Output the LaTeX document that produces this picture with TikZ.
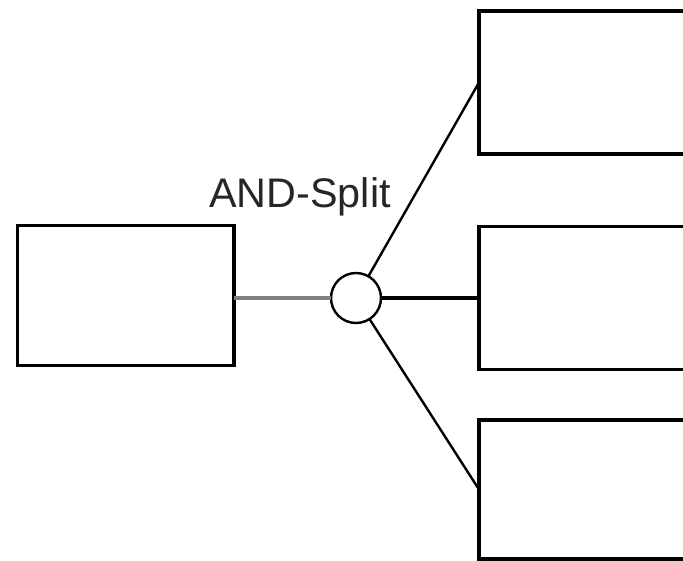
\documentclass[tikz,border=0pt]{standalone}
\usepackage{fontspec}
\setmainfont{Liberation Sans}
\begin{document}
\begin{tikzpicture}[x=0.75pt,y=-0.75pt,
  box/.style={draw=black,line width=2.7pt,rectangle,outer sep=0pt,inner sep=0pt,fill=white},
  gate/.style={draw=black,line width=1.8pt,circle,outer sep=0pt,inner sep=0pt,minimum size=37.5pt,fill=white},
  grayconn/.style={draw=black!50,line width=2.5pt},
  conn/.style={draw=black,line width=1.8pt},
  thickconn/.style={draw=black,line width=2.7pt}]
\useasboundingbox (0,0) rectangle (683,561);
\clip (0,0) rectangle (683,561);
\fill[white] (0,0) rectangle (683,561);
\node[box,minimum width=162.4pt,minimum height=105pt] (src) at (125.75,295.5) {};
\node[box,minimum width=165pt,minimum height=107.25pt] (t1) at (589,82.5) {};
\node[box,minimum width=165pt,minimum height=107pt] (t2) at (589,298) {};
\node[box,minimum width=165pt,minimum height=104.25pt] (t3) at (589,489.5) {};
\node[gate] (and) at (356,298) {};
\node[anchor=base,text=black!85,font=\fontsize{31pt}{36pt}\selectfont,inner sep=0pt] (lbl) at (300,207) {AND-Split};
\draw[grayconn] (and -| src.east) -- (and);
\draw[conn] (and) -- (t1.west);
\draw[thickconn] (and) -- (t2.west);
\draw[conn] (and) -- (t3.west);
\end{tikzpicture}
\end{document}
